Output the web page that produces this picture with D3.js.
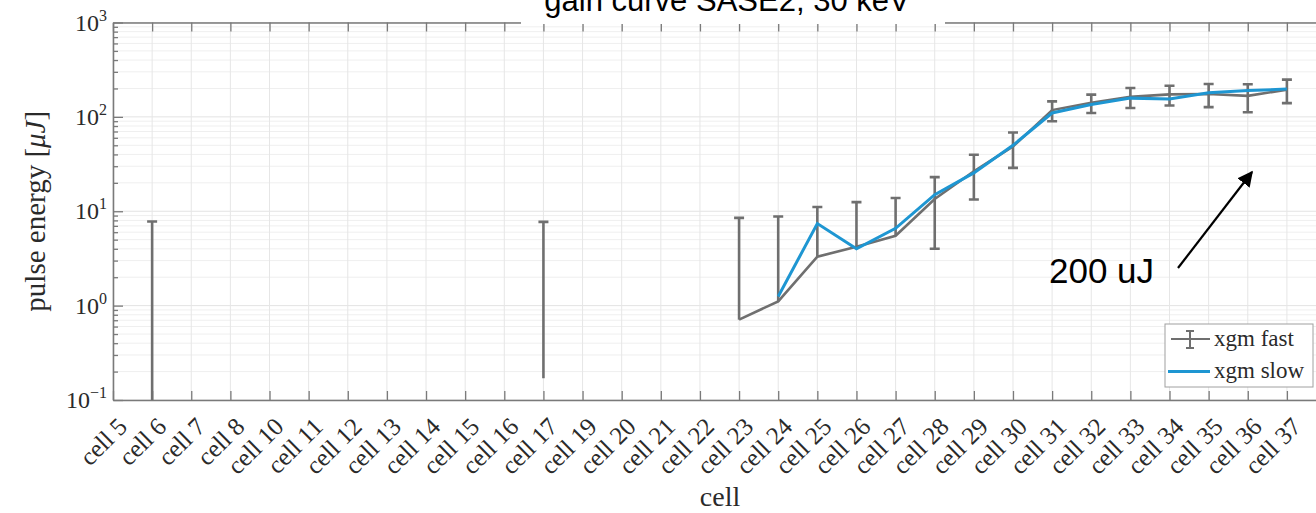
<!DOCTYPE html>
<html>
<head>
<meta charset="utf-8">
<script src="https://cdn.jsdelivr.net/npm/d3@7"></script>
<style>
  body { margin: 0; background: #fff; }
  svg { display: block; }
  .tick text { font-family: "Liberation Serif", serif; }
</style>
</head>
<body>
<div id="chart"></div>
<script>
// cells measured (x categories)
var cells = [5, 6, 7, 8, 10, 11, 12, 13, 14, 15, 16, 17, 19, 20, 21, 22, 23, 24, 25, 26, 27, 28, 29, 30, 31, 32, 33, 34, 35, 36, 37];

// xgm fast: mean and std (null = no data)
var fastMean = [null, 0.05, null, null, null, null, null, null, null, null, null, 0.17, null, null, null, null,
                0.71, 1.11, 3.3, 4.2, 5.5, 13.5, 26.5, 48.6, 118, 141, 163, 173, 175, 167, 194];
var fastErr  = [null, 7.75, null, null, null, null, null, null, null, null, null, 7.55, null, null, null, null,
                7.8, 7.7, 7.8, 8.3, 8.3, 9.5, 13.2, 19.8, 28, 31, 39, 41, 48, 55, 54];

// xgm slow
var slowMean = [null, null, null, null, null, null, null, null, null, null, null, null, null, null, null, null,
                null, 1.25, 7.4, 4.0, 6.6, 15, 25.5, 50, 110, 135, 158, 155, 180, 190, 197];

var yTicks = [0.1, 1, 10, 100, 1000];
var yExp = ["\u22121", "0", "1", "2", "3"];

var width = 1316, height = 513;
var margin = {top: 22.5, left: 113, bottom: 113};
var plotBottom = height - margin.bottom;

var gray = "#6f6f6f", blue = "#1e96d2", axisCol = "#7a7a7a";

var svg = d3.select("#chart").append("svg")
    .attr("width", width).attr("height", height);

var x = d3.scaleLinear().domain([0, 31]).range([margin.left, margin.left + 31 * 39.13]);
var y = d3.scaleLog().domain([0.1, 1000]).range([plotBottom, margin.top]);
var idx = d3.range(cells.length);

svg.append("defs").append("clipPath").attr("id", "plotclip")
  .append("rect")
    .attr("x", x(0)).attr("y", y(1000))
    .attr("width", x(31) - x(0)).attr("height", y(0.1) - y(1000));

/* grid */
var minor = [];
[0.1, 1, 10, 100].forEach(function(d) { for (var k = 2; k <= 9; k++) minor.push(d * k); });

var grid = svg.append("g");
grid.selectAll(".gm").data(minor).enter().append("line")
    .attr("x1", x(0)).attr("x2", width)
    .attr("y1", function(d) { return y(d); }).attr("y2", function(d) { return y(d); })
    .style("stroke", "#efefef").style("stroke-width", 1);
grid.selectAll(".gy").data(yTicks).enter().append("line")
    .attr("x1", x(0)).attr("x2", width)
    .attr("y1", function(d) { return y(d); }).attr("y2", function(d) { return y(d); })
    .style("stroke", "#e3e3e3").style("stroke-width", 1);
grid.selectAll(".gx").data(idx).enter().append("line")
    .attr("x1", function(d) { return x(d); }).attr("x2", function(d) { return x(d); })
    .attr("y1", y(1000)).attr("y2", y(0.1))
    .style("stroke", "#e6e6e6").style("stroke-width", 1);

/* axes */
var xAxis = svg.append("g").attr("transform", "translate(0," + plotBottom + ")")
    .call(d3.axisBottom(x).tickValues(idx).tickSizeInner(-9).tickSizeOuter(0)
      .tickFormat(function(i) { return "cell " + cells[i]; }));
xAxis.selectAll(".tick text")
    .style("font-size", "25px").style("fill", "#2a2a2a")
    .attr("text-anchor", "end")
    .attr("transform", "translate(9,22) rotate(-45)")
    .attr("x", 0).attr("y", 0).attr("dy", "0.35em");

var xTop = svg.append("g").attr("transform", "translate(0," + margin.top + ")")
    .call(d3.axisTop(x).tickValues(idx).tickSizeInner(-9).tickSizeOuter(0).tickFormat(""));

var yAxis = svg.append("g").attr("transform", "translate(" + margin.left + ",0)")
    .call(d3.axisLeft(y).tickValues(yTicks).tickSizeInner(-10).tickSizeOuter(0).tickFormat(""));
svg.append("g").attr("transform", "translate(" + margin.left + ",0)")
    .call(d3.axisLeft(y).tickValues(minor).tickSizeInner(-5).tickSizeOuter(0).tickFormat(""));

svg.selectAll(".domain, .tick line").style("stroke", axisCol).style("stroke-width", 1.3);

// y tick labels 10^n
var ylab = svg.append("g");
yTicks.forEach(function(d, i) {
  var t = ylab.append("text")
      .attr("x", margin.left - 6).attr("y", y(d) + 8)
      .attr("text-anchor", "end")
      .style("font-family", "Liberation Serif, serif").style("font-size", "24px").style("fill", "#2a2a2a");
  t.append("tspan").text("10");
  t.append("tspan").attr("dy", -10).style("font-size", "16px").text(yExp[i]);
});

/* axis labels */
svg.append("text")
    .attr("transform", "translate(45," + ((y(1000) + y(0.1)) / 2) + ") rotate(-90)")
    .attr("text-anchor", "middle")
    .style("font-family", "Liberation Serif, serif").style("font-size", "29px").style("fill", "#2a2a2a")
    .html("pulse energy [<tspan font-style='italic'>\u03bcJ</tspan>]");

svg.append("text")
    .attr("x", 720).attr("y", 506)
    .attr("text-anchor", "middle")
    .style("font-family", "Liberation Serif, serif").style("font-size", "28px").style("fill", "#2a2a2a")
    .text("cell");

/* data */
var plot = svg.append("g").attr("clip-path", "url(#plotclip)");
var cap = 5;

var bars = idx.filter(function(i) { return fastMean[i] != null; });
bars.forEach(function(i) {
  var m = fastMean[i], e = fastErr[i];
  var lo = m - e, hi = m + e;
  var yLo = lo > 0 ? y(lo) : y(Math.max(m, 1e-3));
  plot.append("line")
      .attr("x1", x(i)).attr("x2", x(i)).attr("y1", yLo).attr("y2", y(hi))
      .style("stroke", gray).style("stroke-width", 2.6);
  plot.append("line")
      .attr("x1", x(i) - cap).attr("x2", x(i) + cap).attr("y1", y(hi)).attr("y2", y(hi))
      .style("stroke", gray).style("stroke-width", 2.6);
  if (lo > 0) {
    plot.append("line")
        .attr("x1", x(i) - cap).attr("x2", x(i) + cap).attr("y1", y(lo)).attr("y2", y(lo))
        .style("stroke", gray).style("stroke-width", 2.6);
  }
});

var fastLine = d3.line()
    .defined(function(i) { return fastMean[i] != null; })
    .x(function(i) { return x(i); }).y(function(i) { return y(fastMean[i]); });
plot.append("path").attr("d", fastLine(idx))
    .style("fill", "none").style("stroke", gray).style("stroke-width", 2.6);

var slowLine = d3.line()
    .defined(function(i) { return slowMean[i] != null; })
    .x(function(i) { return x(i); }).y(function(i) { return y(slowMean[i]); });
plot.append("path").attr("d", slowLine(idx))
    .style("fill", "none").style("stroke", blue).style("stroke-width", 3);

/* legend */
var lg = svg.append("g");
lg.append("rect").attr("x", 1165).attr("y", 324).attr("width", 148).attr("height", 63)
    .style("fill", "#fff").style("stroke", "#a0a0a0").style("stroke-width", 1);
lg.append("line").attr("x1", 1171).attr("x2", 1210).attr("y1", 339).attr("y2", 339)
    .style("stroke", gray).style("stroke-width", 2);
lg.append("line").attr("x1", 1190).attr("x2", 1190).attr("y1", 331).attr("y2", 348)
    .style("stroke", gray).style("stroke-width", 2);
lg.append("line").attr("x1", 1186).attr("x2", 1194).attr("y1", 331).attr("y2", 331)
    .style("stroke", gray).style("stroke-width", 2);
lg.append("line").attr("x1", 1186).attr("x2", 1194).attr("y1", 348).attr("y2", 348)
    .style("stroke", gray).style("stroke-width", 2);
lg.append("line").attr("x1", 1168).attr("x2", 1210).attr("y1", 371.5).attr("y2", 371.5)
    .style("stroke", blue).style("stroke-width", 3);
lg.append("text").attr("x", 1214).attr("y", 346).text("xgm fast")
    .style("font-family", "Liberation Serif, serif").style("font-size", "23px").style("fill", "#2a2a2a");
lg.append("text").attr("x", 1214).attr("y", 378).text("xgm slow")
    .style("font-family", "Liberation Serif, serif").style("font-size", "23px").style("fill", "#2a2a2a");

/* title (cut off at top, white box over axis) */
svg.append("rect").attr("x", 521).attr("y", 0).attr("width", 424).attr("height", 24)
    .style("fill", "#fff");
svg.append("text").attr("x", 727).attr("y", 11).attr("text-anchor", "middle")
    .style("font-family", "Liberation Sans, Arial, sans-serif").style("font-size", "31px").style("fill", "#000")
    .text("gain curve SASE2, 30 keV");

/* annotation */
svg.append("defs").append("marker").attr("id", "arr")
    .attr("viewBox", "0 0 10 10").attr("refX", 9).attr("refY", 5)
    .attr("markerWidth", 7).attr("markerHeight", 7).attr("markerUnits", "strokeWidth")
    .attr("orient", "auto")
  .append("path").attr("d", "M0,0 L10,5 L0,10 z").style("fill", "#000");
svg.append("line")
    .attr("x1", 1178).attr("y1", 268).attr("x2", 1252).attr("y2", 172)
    .style("stroke", "#000").style("stroke-width", 2.2).attr("marker-end", "url(#arr)");
svg.append("text").attr("x", 1049).attr("y", 283)
    .style("font-family", "Liberation Sans, Arial, sans-serif").style("font-size", "35px").style("fill", "#000")
    .text("200 uJ");
</script>
</body>
</html>
